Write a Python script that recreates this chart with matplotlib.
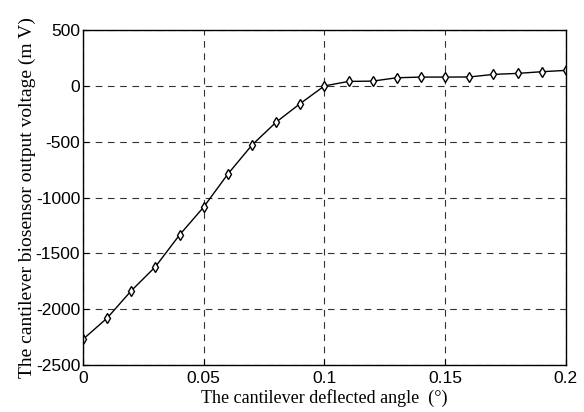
import matplotlib
matplotlib.use("Agg")
import matplotlib.pyplot as plt

plt.rcParams["axes.unicode_minus"] = False

angle = [0, 0.01, 0.02, 0.03, 0.04, 0.05, 0.06, 0.07, 0.08, 0.09, 0.10,
         0.11, 0.12, 0.13, 0.14, 0.15, 0.16, 0.17, 0.18, 0.19, 0.20]
voltage = [-2270, -2080, -1835, -1620, -1335, -1085, -790, -530, -325, -158, 0,
           40, 43, 73, 79, 79, 80, 103, 112, 127, 139]

x_ticks = [0, 0.05, 0.1, 0.15, 0.2]
x_labels = ["0", "0.05", "0.1", "0.15", "0.2"]
y_ticks = [-2500, -2000, -1500, -1000, -500, 0, 500]

fig = plt.figure(figsize=(5.84, 4.12), dpi=100)
ax = fig.add_axes([0.142, 0.114, 0.827, 0.813])

ax.plot(angle, voltage, color="black", linewidth=1.0, marker="d",
        markersize=5, markerfacecolor="white", markeredgecolor="black",
        markeredgewidth=1.0)

ax.set_xlim(0, 0.2)
ax.set_ylim(-2500, 500)
ax.set_xticks(x_ticks)
ax.set_xticklabels(x_labels)
ax.set_yticks(y_ticks)
ax.tick_params(direction="in", length=4, labelsize=12.5)
ax.tick_params(axis="x", pad=4.5)
ax.tick_params(axis="y", pad=2)
for lbl in ax.get_xticklabels() + ax.get_yticklabels():
    lbl.set_family("Liberation Sans")

ax.grid(True, color="#333333", linestyle=(0, (6, 5)), linewidth=0.8)

ax.set_xlabel("The cantilever deflected angle  (°)", family="Liberation Serif",
              fontsize=13, labelpad=2)
ax.set_ylabel("The cantilever biosensor output voltage (m V)",
              family="Liberation Serif", fontsize=14, labelpad=0)

for s in ax.spines.values():
    s.set_linewidth(1.0)

fig.savefig("out.png", dpi=100)
